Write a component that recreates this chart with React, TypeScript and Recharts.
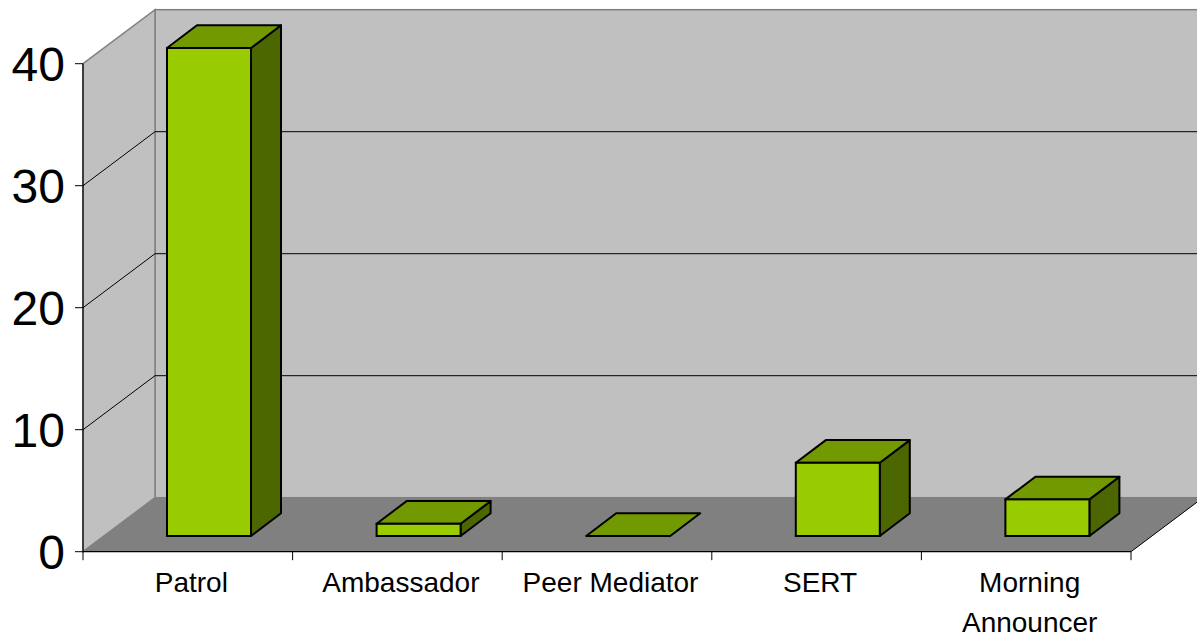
import React from 'react';
import { BarChart, Bar, XAxis, YAxis, CartesianGrid } from 'recharts';

const categories = ['Patrol', 'Ambassador', 'Peer Mediator', 'SERT', 'Morning Announcer'];
const counts = [40, 1, 0, 6, 3];
const yTicks = [0, 10, 20, 30, 40];

const data = categories.map((name, i) => ({ name, value: counts[i] }));

const W = 1197;
const H = 635;
const M = { top: 48, right: 45, bottom: 39, left: 4 };
const Y_AXIS_W = 100;
const X_AXIS_H = 60;
const PL = M.left + Y_AXIS_W;
const PR = W - M.right;
const PT = M.top;
const PB = H - M.bottom - X_AXIS_H;
const BAND = (PR - PL) / categories.length;

// plane offsets relative to the bar-front plane
const FX = -21;
const FY = 15.7;
const BX = 51;
const BY = -38.3;
// bar depth
const DX = 30;
const DY = -22.7;

const FONT = '"Liberation Sans", Arial, Helvetica, sans-serif';
const X_FONT_SIZE = 28;

let ctx: CanvasRenderingContext2D | null = null;
const measure = (s: string) => {
  if (typeof document === 'undefined') return s.length * X_FONT_SIZE * 0.55;
  if (!ctx) ctx = document.createElement('canvas').getContext('2d');
  if (!ctx) return s.length * X_FONT_SIZE * 0.55;
  ctx.font = `${X_FONT_SIZE}px ${FONT}`;
  return ctx.measureText(s).width;
};

const wrapLabel = (label: string, maxW: number) => {
  const words = label.split(' ');
  const lines: string[] = [];
  let cur = '';
  words.forEach((w) => {
    const test = cur ? `${cur} ${w}` : w;
    if (cur && measure(test) > maxW) {
      lines.push(cur);
      cur = w;
    } else {
      cur = test;
    }
  });
  if (cur) lines.push(cur);
  return lines;
};

const Bar3D = (props: any) => {
  const { x, y, width, height } = props;
  if (x == null || y == null) return null;
  const h = Math.max(0, height || 0);
  const sw = 2;
  return (
    <g>
      {h > 0 && (
        <polygon
          points={`${x + width},${y} ${x + width + DX},${y + DY} ${x + width + DX},${y + h + DY} ${x + width},${y + h}`}
          fill="#4C6600"
          stroke="#000"
          strokeWidth={sw}
          strokeLinejoin="round"
        />
      )}
      <polygon
        points={`${x},${y} ${x + DX},${y + DY} ${x + width + DX},${y + DY} ${x + width},${y}`}
        fill="#739900"
        stroke="#000"
        strokeWidth={sw}
        strokeLinejoin="round"
      />
      {h > 0 && (
        <rect x={x} y={y} width={width} height={h} fill="#99CC00" stroke="#000" strokeWidth={sw} />
      )}
    </g>
  );
};

const XTick = (props: any) => {
  const { x, y, payload, index } = props;
  const fx = x + FX;
  const fy = y + FY;
  const lx = fx + 3.5;
  const lines = wrapLabel(String(payload.value), BAND - 8);
  return (
    <g>
      <line x1={fx - BAND / 2} x2={fx - BAND / 2} y1={fy} y2={fy + 8.5} stroke="#000" strokeWidth={1} />
      {index === categories.length - 1 && (
        <line x1={fx + BAND / 2} x2={fx + BAND / 2} y1={fy} y2={fy + 8.5} stroke="#000" strokeWidth={1} />
      )}
      <text x={lx} y={fy + 40.3} textAnchor="middle" fill="#000" fontSize={X_FONT_SIZE} fontFamily={FONT}>
        {lines.map((ln, i) => (
          <tspan key={i} x={lx} dy={i === 0 ? 0 : 39.5}>
            {ln}
          </tspan>
        ))}
      </text>
    </g>
  );
};

const YTick = (props: any) => {
  const { x, y, payload } = props;
  const fx = x + FX;
  const fy = y + FY;
  return (
    <g>
      <line x1={fx - 8} x2={fx} y1={fy} y2={fy} stroke="#000" strokeWidth={1} />
      <text x={fx - 18} y={fy} dy="0.355em" textAnchor="end" fill="#000" fontSize={48} fontFamily={FONT}>
        {payload.value}
      </text>
    </g>
  );
};

const GridLine = (props: any) => {
  const { x1, y1, key } = props;
  if (Math.abs(y1 - PT) < 1 || Math.abs(y1 - PB) < 1) return <g key={key} />;
  return (
    <polyline
      key={key}
      points={`${x1 + FX},${y1 + FY} ${x1 + BX},${y1 + BY} ${W + 20},${y1 + BY}`}
      fill="none"
      stroke="#000"
      strokeWidth={1}
    />
  );
};

const Walls = () => {
  const fL = PL + FX;
  const fR = PR + FX;
  const fB = PB + FY;
  const fT = PT + FY;
  const bL = PL + BX;
  const bR = PR + BX;
  const bB = PB + BY;
  const bT = PT + BY;
  return (
    <svg width={W} height={H} style={{ position: 'absolute', left: 0, top: 0 }}>
      <rect x={bL} y={bT} width={bR - bL} height={bB - bT} fill="#C0C0C0" stroke="#808080" strokeWidth={1.5} />
      <polygon points={`${fL},${fT} ${bL},${bT} ${bL},${bB} ${fL},${fB}`} fill="#C0C0C0" stroke="#808080" strokeWidth={1.5} />
      <polygon points={`${fL},${fB} ${bL},${bB} ${bR},${bB} ${fR},${fB}`} fill="#808080" />
      <line x1={fR} y1={fB} x2={bR} y2={bB} stroke="#000" strokeWidth={1} />
      <line x1={fL} y1={fB} x2={fR} y2={fB} stroke="#000" strokeWidth={1.2} />
      <line x1={fL} y1={fT} x2={fL} y2={fB} stroke="#000" strokeWidth={1.2} />
    </svg>
  );
};

export default function App() {
  return (
    <div style={{ position: 'absolute', left: 0, top: 0, width: W, height: H, background: '#fff', overflow: 'hidden' }}>
      <Walls />
      <div style={{ position: 'absolute', left: 0, top: 0 }}>
        <BarChart width={W} height={H} data={data} margin={M} barSize={84}>
          <CartesianGrid vertical={false} horizontal={GridLine} fill="none" />
          <XAxis
            dataKey="name"
            interval={0}
            height={X_AXIS_H}
            axisLine={false}
            tickLine={false}
            tickSize={0}
            tickMargin={0}
            tick={XTick}
          />
          <YAxis
            type="number"
            domain={[0, 40]}
            ticks={yTicks}
            width={Y_AXIS_W}
            axisLine={false}
            tickLine={false}
            tickSize={0}
            tickMargin={0}
            tick={YTick}
          />
          <Bar dataKey="value" shape={Bar3D} isAnimationActive={false} />
        </BarChart>
      </div>
    </div>
  );
}
